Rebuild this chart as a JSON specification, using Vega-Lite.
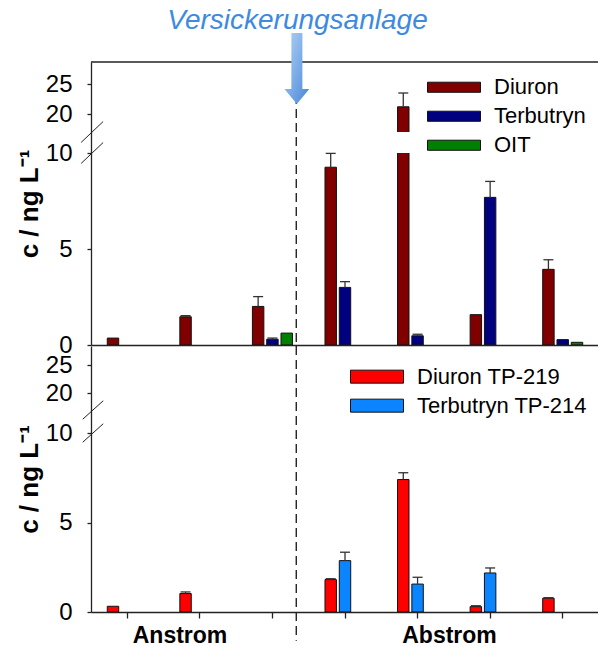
{
  "$schema": "https://vega.github.io/schema/vega-lite/v6.json",
  "padding": {"left": 16, "top": 6, "right": 0, "bottom": 0},
  "spacing": 1,
  "bounds": "flush",
  "config": {
    "view": {"stroke": null},
    "font": "Liberation Sans",
    "axis": {"domainColor": "#222", "domainWidth": 1.3, "tickColor": "#222", "tickWidth": 1.3, "labelColor": "#000", "labelFont": "Liberation Sans", "titleFont": "Liberation Sans", "titleColor": "#000", "grid": false},
    "legend": {"orient": "none", "title": null, "symbolStrokeColor": "#111", "symbolStrokeWidth": 1, "labelFontSize": 22, "labelFont": "Liberation Sans", "labelColor": "#000", "labelOffset": 13, "labelLimit": 400, "rowPadding": 0, "padding": 0, "symbolOpacity": 1}
  },
  "datasets": {
    "top": [
      {"g": "1", "s": "Diuron", "v": 0.36},
      {"g": "2", "s": "Diuron", "v": 1.47, "e": 1.53},
      {"g": "3", "s": "Diuron", "v": 2.01, "e": 2.52},
      {"g": "3", "s": "Terbutryn", "v": 0.3, "e": 0.36},
      {"g": "3", "s": "OIT", "v": 0.62},
      {"g": "4", "s": "Diuron", "v": 9.26, "e": 9.98},
      {"g": "4", "s": "Terbutryn", "v": 3.0, "e": 3.3},
      {"g": "5", "s": "Diuron", "v": 21.2, "e": 23.5},
      {"g": "5", "s": "Terbutryn", "v": 0.48, "e": 0.56},
      {"g": "6", "s": "Diuron", "v": 1.58},
      {"g": "6", "s": "Terbutryn", "v": 7.69, "e": 8.52},
      {"g": "7", "s": "Diuron", "v": 3.94, "e": 4.44},
      {"g": "7", "s": "Terbutryn", "v": 0.28},
      {"g": "7", "s": "OIT", "v": 0.14}
    ],
    "bottom": [
      {"g": "1", "s": "Diuron TP-219", "v": 0.32},
      {"g": "2", "s": "Diuron TP-219", "v": 1.03, "e": 1.12},
      {"g": "4", "s": "Diuron TP-219", "v": 1.81, "e": 1.86},
      {"g": "4", "s": "Terbutryn TP-214", "v": 2.87, "e": 3.34},
      {"g": "5", "s": "Diuron TP-219", "v": 7.4, "e": 7.78},
      {"g": "5", "s": "Terbutryn TP-214", "v": 1.56, "e": 1.94},
      {"g": "6", "s": "Diuron TP-219", "v": 0.3, "e": 0.35},
      {"g": "6", "s": "Terbutryn TP-214", "v": 2.18, "e": 2.46},
      {"g": "7", "s": "Diuron TP-219", "v": 0.77, "e": 0.8}
    ]
  },
  "vconcat": [
    {
      "width": 508,
      "height": 283,
      "layer": [
        {
          "data": {"name": "top"},
          "mark": {"type": "bar", "stroke": "#111", "strokeWidth": 1},
          "encoding": {
            "x": {"field": "g", "type": "nominal", "title": null, "scale": {"domain": ["1", "2", "3", "4", "5", "6", "7"], "paddingInner": 0.409, "paddingOuter": 0.2045}, "axis": {"title": null, "labels": false, "ticks": false, "domain": true, "zindex": 1}},
            "xOffset": {"field": "s", "type": "nominal", "scale": {"domain": ["Diuron", "Terbutryn", "OIT"], "paddingInner": 0.2, "paddingOuter": 0.1}},
            "y": {"field": "v", "type": "quantitative", "title": "c / ng L⁻¹", "scale": {"domain": [0, 10, 17, 28.67], "range": [283, 91, 70, 0], "zero": false, "nice": false}, "axis": {"titleFontSize": 26, "titleFontWeight": "bold", "titlePadding": 3, "values": [0, 5, 10, 20, 25], "labelFontSize": 24, "labelPadding": 15, "tickSize": 4, "zindex": 1}},
            "color": {"field": "s", "type": "nominal", "scale": {"domain": ["Diuron", "Terbutryn", "OIT"], "range": ["#800000", "#000080", "#008000"]}, "legend": {"legendX": 336, "legendY": 11, "symbolType": "M-1,-0.19H1V0.19H-1Z", "symbolSize": 2809, "clipHeight": 28.5}}
          }
        },
        {
          "data": {"values": [{}]},
          "mark": {"type": "rect", "fill": "white"},
          "encoding": {"y": {"datum": 10, "type": "quantitative", "title": "c / ng L⁻¹"}, "y2": {"datum": 17}}
        },
        {
          "data": {"name": "top"},
          "transform": [{"filter": "isValid(datum.e)"}],
          "mark": {"type": "rule", "color": "#333", "strokeWidth": 1.3},
          "encoding": {
            "x": {"field": "g", "type": "nominal", "title": null},
            "xOffset": {"field": "s", "type": "nominal"},
            "y": {"field": "v", "type": "quantitative", "title": "c / ng L⁻¹"},
            "y2": {"field": "e"}
          }
        },
        {
          "data": {"name": "top"},
          "transform": [{"filter": "isValid(datum.e)"}],
          "mark": {"type": "tick", "orient": "horizontal", "size": 10, "thickness": 1.3, "color": "#333", "opacity": 1},
          "encoding": {
            "x": {"field": "g", "type": "nominal", "title": null},
            "xOffset": {"field": "s", "type": "nominal"},
            "y": {"field": "e", "type": "quantitative", "title": "c / ng L⁻¹"}
          }
        },
        {
          "data": {"values": [{}]},
          "mark": {"type": "rule", "color": "#222", "strokeWidth": 1.3},
          "encoding": {"y": {"datum": 28.67, "type": "quantitative", "title": "c / ng L⁻¹"}}
        },
        {
          "data": {"values": [{}]},
          "mark": {"type": "rule", "color": "#222", "strokeWidth": 1.4, "strokeDash": [9, 5]},
          "encoding": {
            "x": {"datum": "3", "type": "nominal", "bandPosition": 1.056, "title": null},
            "y": {"datum": 32.5, "type": "quantitative", "title": "c / ng L⁻¹"},
            "y2": {"datum": 0}
          }
        },
        {
          "data": {"values": [{}]},
          "mark": {"type": "point", "shape": "M-0.155,-1L0.155,-1L0.155,0.58L0.35,0.58L0,1L-0.35,0.58L-0.155,0.58Z", "size": 5041, "filled": true, "opacity": 1, "strokeWidth": 0,
            "fill": {"gradient": "linear", "x1": 0, "y1": 0, "x2": 1, "y2": 1, "stops": [{"offset": 0, "color": "#b4d2f6"}, {"offset": 0.5, "color": "#7eaee8"}, {"offset": 1, "color": "#4a84d2"}]}},
          "encoding": {
            "x": {"datum": "3", "type": "nominal", "bandPosition": 1.07, "title": null},
            "y": {"datum": 27.6, "type": "quantitative", "title": "c / ng L⁻¹"}
          }
        },
        {
          "data": {"values": [{}]},
          "mark": {"type": "text", "text": "Versickerungsanlage", "font": "Liberation Sans", "fontSize": 28, "fontStyle": "italic", "color": "#3d8ae0", "align": "center", "baseline": "alphabetic"},
          "encoding": {
            "x": {"datum": "3", "type": "nominal", "bandPosition": 1.084, "title": null},
            "y": {"datum": 34.2, "type": "quantitative", "title": "c / ng L⁻¹"}
          }
        },
        {
          "data": {"values": [{"b": 10}, {"b": 17}]},
          "mark": {"type": "point", "shape": "M-1,0.95L1,-0.95", "size": 484, "filled": false, "stroke": "#222", "strokeWidth": 1, "opacity": 1},
          "encoding": {
            "x": {"datum": "1", "type": "nominal", "bandPosition": -0.32, "title": null},
            "y": {"field": "b", "type": "quantitative", "title": "c / ng L⁻¹"}
          }
        }
      ]
    },
    {
      "width": 508,
      "height": 266,
      "layer": [
        {
          "data": {"name": "bottom"},
          "mark": {"type": "bar", "stroke": "#111", "strokeWidth": 1},
          "encoding": {
            "x": {"field": "g", "type": "nominal", "title": null, "scale": {"domain": ["1", "2", "3", "4", "5", "6", "7"], "paddingInner": 0.409, "paddingOuter": 0.2045}, "axis": {"title": null, "labels": false, "ticks": true, "tickSize": 6, "domain": true, "zindex": 1}},
            "xOffset": {"field": "s", "type": "nominal", "scale": {"domain": ["Diuron TP-219", "Terbutryn TP-214", "-"], "paddingInner": 0.2, "paddingOuter": 0.1}},
            "y": {"field": "v", "type": "quantitative", "title": "c / ng L⁻¹", "scale": {"domain": [0, 10, 17, 28.4], "range": [266, 87, 64, 0], "zero": false, "nice": false}, "axis": {"titleFontSize": 26, "titleFontWeight": "bold", "titlePadding": 3, "values": [0, 5, 10, 20, 25], "labelFontSize": 24, "labelPadding": 15, "tickSize": 4, "zindex": 1}},
            "color": {"field": "s", "type": "nominal", "scale": {"domain": ["Diuron TP-219", "Terbutryn TP-214"], "range": ["#ff0000", "#0a84ff"]}, "legend": {"legendX": 259, "legendY": 16.5, "symbolType": "M-1,-0.245H1V0.245H-1Z", "symbolSize": 2809, "clipHeight": 28.3}}
          }
        },
        {
          "data": {"name": "bottom"},
          "transform": [{"filter": "isValid(datum.e)"}],
          "mark": {"type": "rule", "color": "#333", "strokeWidth": 1.3},
          "encoding": {
            "x": {"field": "g", "type": "nominal", "title": null},
            "xOffset": {"field": "s", "type": "nominal"},
            "y": {"field": "v", "type": "quantitative", "title": "c / ng L⁻¹"},
            "y2": {"field": "e"}
          }
        },
        {
          "data": {"name": "bottom"},
          "transform": [{"filter": "isValid(datum.e)"}],
          "mark": {"type": "tick", "orient": "horizontal", "size": 10, "thickness": 1.3, "color": "#333", "opacity": 1},
          "encoding": {
            "x": {"field": "g", "type": "nominal", "title": null},
            "xOffset": {"field": "s", "type": "nominal"},
            "y": {"field": "e", "type": "quantitative", "title": "c / ng L⁻¹"}
          }
        },
        {
          "data": {"values": [{}]},
          "mark": {"type": "rule", "color": "#222", "strokeWidth": 1.4, "strokeDash": [9, 5]},
          "encoding": {
            "x": {"datum": "3", "type": "nominal", "bandPosition": 1.056, "title": null},
            "y": {"datum": 28.4, "type": "quantitative", "title": "c / ng L⁻¹"},
            "y2": {"datum": -1.6}
          }
        },
        {
          "data": {"values": [{"b": 10}, {"b": 17}]},
          "mark": {"type": "point", "shape": "M-1,0.9L1,-0.9", "size": 420, "filled": false, "stroke": "#222", "strokeWidth": 1, "opacity": 1},
          "encoding": {
            "x": {"datum": "1", "type": "nominal", "bandPosition": -0.3, "title": null},
            "y": {"field": "b", "type": "quantitative", "title": "c / ng L⁻¹"}
          }
        },
        {
          "data": {"values": [{"label": "Anstrom", "g": "2"}]},
          "mark": {"type": "text", "font": "Liberation Sans", "fontSize": 23, "fontWeight": "bold", "color": "#000", "align": "center", "baseline": "alphabetic"},
          "encoding": {
            "x": {"field": "g", "type": "nominal", "bandPosition": 0.037, "title": null},
            "y": {"datum": -1.75, "type": "quantitative", "title": "c / ng L⁻¹"},
            "text": {"field": "label"}
          }
        },
        {
          "data": {"values": [{"label": "Abstrom", "g": "5"}]},
          "mark": {"type": "text", "font": "Liberation Sans", "fontSize": 23, "fontWeight": "bold", "color": "#000", "align": "center", "baseline": "alphabetic"},
          "encoding": {
            "x": {"field": "g", "type": "nominal", "bandPosition": 1.245, "title": null},
            "y": {"datum": -1.75, "type": "quantitative", "title": "c / ng L⁻¹"},
            "text": {"field": "label"}
          }
        }
      ]
    }
  ],
  "resolve": {"scale": {"x": "independent", "y": "independent", "color": "independent", "xOffset": "independent"}, "legend": {"color": "independent"}}
}
